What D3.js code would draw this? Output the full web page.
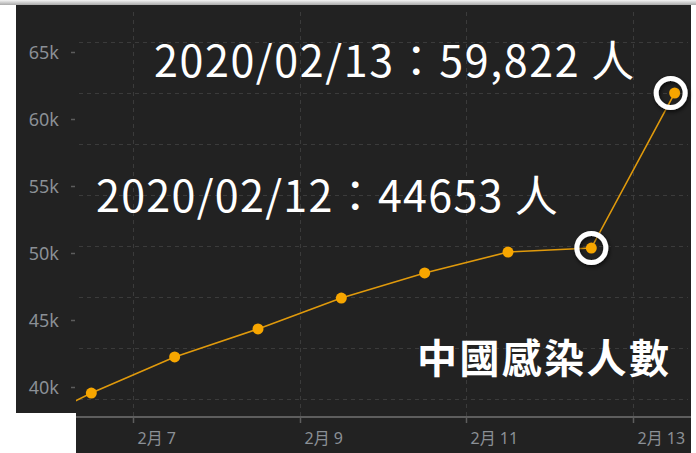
<!DOCTYPE html>
<html lang="zh-Hant">
<head>
<meta charset="UTF-8">
<title>中國感染人數</title>
<style>
  body { margin: 0; background: #fff; }
  svg { display: block; }
  .tick-label { font-family: "Noto Sans", "Noto Sans CJK TC", sans-serif; fill: #8b9096; }
  .note { font-family: "Noto Sans CJK TC", "Noto Sans", sans-serif; fill: #fff; }
</style>
</head>
<body>
<div id="chart"></div>
<script src="https://cdn.jsdelivr.net/npm/d3@7/dist/d3.min.js"></script>
<script>
// data (one point per day, plotted at noon)
const dates = ["2020-02-05T12:00", "2020-02-06T12:00", "2020-02-07T12:00", "2020-02-08T12:00",
               "2020-02-09T12:00", "2020-02-10T12:00", "2020-02-11T12:00", "2020-02-12T12:00",
               "2020-02-13T12:00"];
const cases = [36500, 39550, 42240, 44330, 46640, 48510, 50070, 50370, 61940];

const yTicks = [40000, 45000, 50000, 55000, 60000, 65000];
const yTickLabels = ["40k", "45k", "50k", "55k", "60k", "65k"];
const xTicks = ["2020-02-07", "2020-02-09", "2020-02-11", "2020-02-13"];
const xTickLabels = ["2月 7", "2月 9", "2月 11", "2月 13"];
// the dashed horizontal grid does not sit on the tick labels in the picture
const gridValues = [39100, 42910, 46720, 50520, 54330, 58130, 61940, 65750];

const ringedDates = ["2020-02-12T12:00", "2020-02-13T12:00"];
const noteTexts = ["2020/02/13：59,822 人", "2020/02/12：44653 人", "中國感染人數"];

const W = 696, H = 453;
const plot = { left: 76, right: 691, top: 5, bottom: 453 };
const axisY = 417;

const parse = d3.isoParse;
const data = dates.map((d, i) => ({ date: parse(d), value: cases[i] }));

const x = d3.scaleTime()
  .domain([parse("2020-02-07"), parse("2020-02-13")])
  .range([133, 633]);
const y = d3.scaleLinear()
  .domain([40000, 65000])
  .range([387, 52]);

const svg = d3.select("#chart").append("svg")
  .attr("width", W).attr("height", H);

const defs = svg.append("defs");
defs.append("clipPath").attr("id", "plot-clip")
  .append("rect")
  .attr("x", plot.left).attr("y", plot.top)
  .attr("width", plot.right - plot.left).attr("height", axisY - plot.top);
const grad = defs.append("linearGradient").attr("id", "topbar")
  .attr("x1", 0).attr("y1", 0).attr("x2", 0).attr("y2", 1);
grad.append("stop").attr("offset", 0).attr("stop-color", "#f4f4f4");
grad.append("stop").attr("offset", 1).attr("stop-color", "#a9a9a9");
const shadow = defs.append("filter").attr("id", "ring-shadow")
  .attr("x", "-50%").attr("y", "-50%").attr("width", "200%").attr("height", "200%");
shadow.append("feDropShadow")
  .attr("dx", 1).attr("dy", 2).attr("stdDeviation", 2)
  .attr("flood-color", "#000").attr("flood-opacity", 0.7);

// dark panels (the picture is a cut-out screenshot)
svg.append("rect").attr("x", 16).attr("y", 5).attr("width", plot.left - 16).attr("height", 413 - 5)
  .attr("fill", "#222");
svg.append("rect").attr("x", plot.left).attr("y", 5).attr("width", plot.right - plot.left).attr("height", H - 5)
  .attr("fill", "#222");
svg.append("rect").attr("x", 0).attr("y", 0).attr("width", W).attr("height", 5)
  .attr("fill", "url(#topbar)");

// grid
const grid = svg.append("g").attr("stroke", "#3b3b3b").attr("stroke-width", 1)
  .attr("stroke-dasharray", "4,4");
grid.selectAll(".hgrid").data(gridValues).enter().append("line")
  .attr("x1", plot.left + 3).attr("x2", plot.right - 3)
  .attr("y1", d => Math.round(y(d)) + 0.5).attr("y2", d => Math.round(y(d)) + 0.5);
grid.selectAll(".vgrid").data(xTicks).enter().append("line")
  .attr("x1", d => Math.round(x(parse(d))) + 0.5).attr("x2", d => Math.round(x(parse(d))) + 0.5)
  .attr("y1", 12).attr("y2", axisY);

// y axis: short tick marks and labels, no domain line
const yAxis = svg.append("g").attr("transform", "translate(75,0)")
  .call(d3.axisLeft(y).tickValues(yTicks).tickFormat((d, i) => yTickLabels[i]).tickSize(4).tickPadding(12));
yAxis.select(".domain").remove();
yAxis.selectAll(".tick line").attr("stroke", "#5c5c5c").attr("stroke-width", 1.5);
yAxis.selectAll(".tick text").attr("class", "tick-label").attr("font-size", 18).attr("dy", "0.36em");
yAxis.attr("font-family", null);

// x axis
svg.append("line").attr("x1", plot.left).attr("x2", plot.right)
  .attr("y1", axisY).attr("y2", axisY)
  .attr("stroke", "#5e5e5e").attr("stroke-width", 2);
const xt = svg.append("g").selectAll(".xtick").data(xTicks).enter().append("g")
  .attr("transform", d => `translate(${Math.round(x(parse(d))) + 0.5},0)`);
xt.append("line").attr("y1", axisY).attr("y2", axisY + 6)
  .attr("stroke", "#5e5e5e").attr("stroke-width", 1.5);
xt.append("text").attr("class", "tick-label")
  .attr("x", 4).attr("y", 444).attr("font-size", 16)
  .text((d, i) => xTickLabels[i]);

// series
const series = svg.append("g").attr("clip-path", "url(#plot-clip)");
series.append("path").datum(data)
  .attr("fill", "none").attr("stroke", "#e09a0c").attr("stroke-width", 1.6)
  .attr("d", d3.line().x(d => x(d.date)).y(d => y(d.value)));
series.selectAll(".dot").data(data).enter().append("circle")
  .attr("cx", d => x(d.date)).attr("cy", d => y(d.value))
  .attr("r", 5.5).attr("fill", "#f7a600");

// highlight rings
const ringed = data.filter(d => ringedDates.some(r => +parse(r) === +d.date));
const ringShift = [0, -4];
svg.append("g").selectAll(".ring").data(ringed).enter().append("circle")
  .attr("cx", (d, i) => x(d.date) + ringShift[i]).attr("cy", d => y(d.value))
  .attr("r", 14.5).attr("fill", "none")
  .attr("stroke", "#fff").attr("stroke-width", 5)
  .attr("filter", "url(#ring-shadow)");

// notes
svg.append("text").attr("class", "note").attr("x", 154).attr("y", 77)
  .attr("font-size", 43).attr("letter-spacing", 1.6).text(noteTexts[0]);
svg.append("text").attr("class", "note").attr("x", 96).attr("y", 212)
  .attr("font-size", 43).attr("letter-spacing", 1.3).text(noteTexts[1]);
svg.append("text").attr("class", "note").attr("x", 417).attr("y", 373)
  .attr("font-size", 40).attr("font-weight", "bold").attr("letter-spacing", 2.4).text(noteTexts[2]);
</script>
</body>
</html>
